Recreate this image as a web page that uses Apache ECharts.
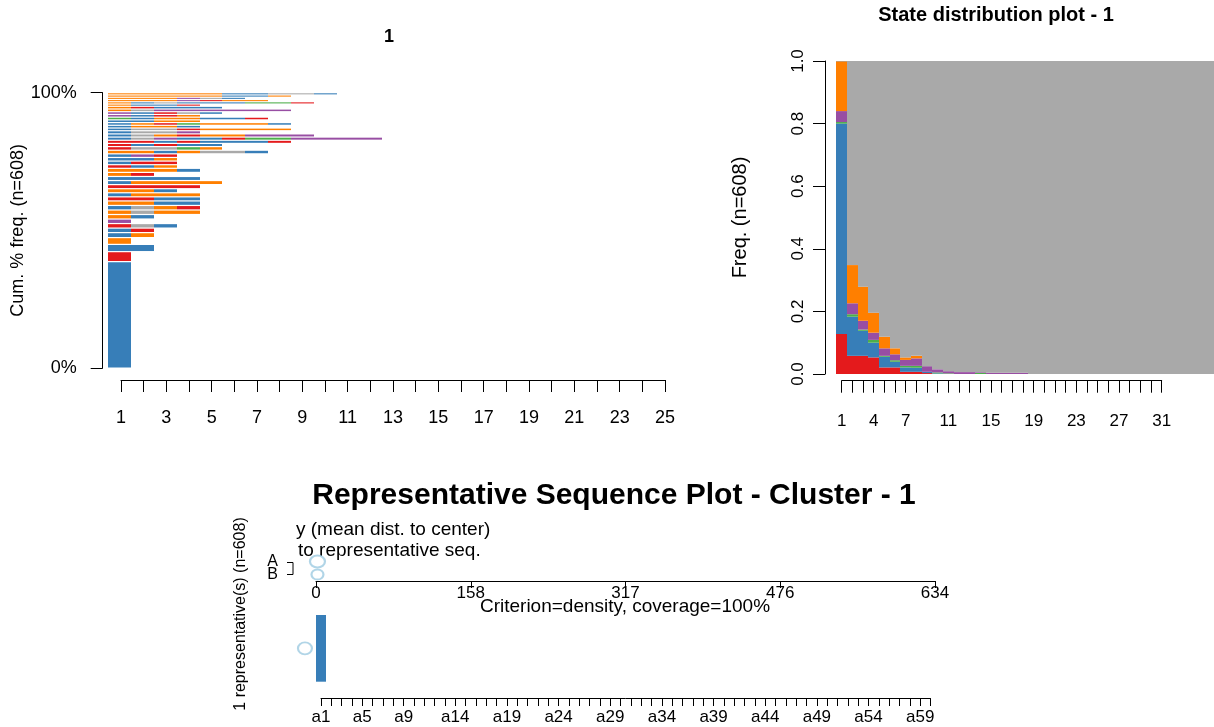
<!DOCTYPE html>
<html>
<head>
<meta charset="utf-8">
<script src="https://cdn.jsdelivr.net/npm/echarts@6/dist/echarts.min.js"></script>
<style>
html, body { margin: 0; padding: 0; background: #fff; }
#main { width: 1214px; height: 727px; }
</style>
</head>
<body>
<div id="main"></div>
<script>
// state codes: B blue, R red, N green, P purple, O orange, G grey
var stateCodes = 'BRNPOG';
var stateColors = ['#377EB8', '#E41A1C', '#4DAF4A', '#984EA3', '#FF7F00', '#A9A9A9'];

// sequence frequency plot, most frequent (bottom) to least frequent (top)
var nSeq = 608;
var seqRows = ['B', 'R', 'BB', 'O',
	'BO', 'BR', 'RGB', 'P', 'OB', 'OGOO', 'BGOR', 'OOBB',
	'RRBB', 'BOOO', 'OOB', 'RRRR', 'BOOOO', 'BBBB', 'OR', 'OOOB',
	'RBO', 'BRR', 'BBO', 'BPR', 'OOBOGGB', 'RGGNO',
	'RBRBB', 'RRBRBBBR', 'BGPBBRNNPPPP', 'BGOROOPPP', 'BGGP',
	'BGGROOOO', 'BOOB', 'BORNOOOB', 'BBOO', 'NBOOBBR', 'PBRO', 'PBRGB', 'OGPPPPPP', 'ORBBB',
	'OBBR', 'OBGBBBNNR', 'OOOPROO', 'OOOPGB', 'OOOOOBBO', 'OOOOOBBGGB'];
var seqCounts = [235, 22, 16, 15,
	11, 10, 10, 10, 10, 10, 10, 10,
	9, 9, 9, 9, 9, 9, 9, 9,
	8, 8, 8, 8, 8, 8,
	7, 7, 7, 7, 7,
	6, 6, 6, 6, 6, 6, 6, 6, 6,
	5, 5, 5, 5, 5, 5];
var freqLength = 25;
var freqLabels = [1, 3, 5, 7, 9, 11, 13, 15, 17, 19, 21, 23, 25];

// state distribution plot, share per position (bottom to top: red, blue, green, purple, orange)
var distRed    = [0.128, 0.058, 0.058, 0.053, 0.021, 0.021, 0.007, 0.007, 0.003, 0, 0, 0, 0, 0, 0, 0, 0, 0];
var distBlue   = [0.672, 0.125, 0.080, 0.047, 0.034, 0.018, 0.014, 0.013, 0.004, 0.002, 0, 0, 0, 0, 0, 0, 0, 0];
var distGreen  = [0.005, 0.008, 0.004, 0.009, 0.003, 0.005, 0.005, 0.006, 0, 0.003, 0.002, 0, 0, 0.004, 0, 0, 0, 0];
var distPurple = [0.035, 0.035, 0.028, 0.023, 0.024, 0.019, 0.019, 0.024, 0.018, 0.010, 0.007, 0.006, 0.006, 0.002, 0.004, 0.004, 0.004, 0.004];
var distOrange = [0.160, 0.122, 0.109, 0.064, 0.037, 0.019, 0.008, 0.008, 0, 0, 0, 0, 0, 0, 0, 0, 0, 0];
var distLength = 36;
var distLabels = [1, 4, 7, 11, 15, 19, 23, 27, 31];

// representative sequence plot
var repDistTicks = [0, 158, 317, 476, 634];
var repDistA = 1.5;
var repDistB = 1.5;
var repSeq = 'B';
var repCirclePos = [-0.55];
var repLength = 60;
var repLabels = [1, 5, 9, 14, 19, 24, 29, 34, 39, 44, 49, 54, 59];

var FONT = 'Liberation Sans';

var freqItems = [];
var cum = 0;
seqRows.forEach(function (s, i) {
	var y0 = cum / nSeq * 100;
	cum += seqCounts[i];
	var y1 = cum / nSeq * 100;
	for (var k = 0; k < s.length; k++) {
		freqItems.push([k + 1, y0, y1, stateCodes.indexOf(s[k])]);
	}
});

var distStates = [distRed, distBlue, distGreen, distPurple, distOrange];
var distColorIdx = [1, 0, 2, 3, 4];
var distItems = [];
for (var p = 0; p < distLength; p++) {
	var c = 0;
	for (var s = 0; s < distStates.length; s++) {
		var v = distStates[s][p] || 0;
		if (v > 0) distItems.push([p + 1, c, c + v, distColorIdx[s]]);
		c += v;
	}
	distItems.push([p + 1, c, 1, 5]);   // missing
}

var repItems = [];
for (var r = 0; r < repSeq.length; r++) repItems.push([r + 1, 0, 1, stateCodes.indexOf(repSeq[r])]);

function rectRenderer(inset) {
	return function (params, api) {
		var a = api.coord([api.value(0) - 0.5, api.value(2)]);
		var b = api.coord([api.value(0) + 0.5, api.value(1)]);
		var x0 = Math.round(a[0]), x1 = Math.round(b[0]);
		var h = b[1] - a[1];
		return {
			type: 'rect',
			shape: { x: x0, y: a[1] + inset, width: x1 - x0, height: Math.max(h - 2 * inset, 0.6) },
			style: { fill: stateColors[api.value(3)] }
		};
	};
}

function axisStyle(extra) {
	var o = {
		type: 'value',
		axisLine: { show: true, lineStyle: { color: '#000', width: 1 } },
		axisTick: { show: true, inside: false, length: 12, lineStyle: { color: '#000', width: 1 } },
		axisLabel: { color: '#000', fontFamily: FONT, fontSize: 18 },
		splitLine: { show: false }
	};
	for (var k in extra) {
		if (typeof extra[k] === 'object' && o[k] && !Array.isArray(extra[k])) {
			for (var j in extra[k]) o[k][j] = extra[k][j];
		} else o[k] = extra[k];
	}
	return o;
}

var hidden = function (min, max) { return { type: 'value', show: false, min: min, max: max }; };

var myChart = echarts.init(document.getElementById('main'));
var option = {
	animation: false,
	backgroundColor: '#fff',
	grid: [
		{ left: 108.3, top: 92.7, width: 570.7, height: 275.3, outerBoundsMode: 'none' },   // freq plot
		{ left: 121, top: 379, width: 544, height: 1, outerBoundsMode: 'none' },            // freq x axis
		{ left: 836.3, top: 61, width: 377.7, height: 313, outerBoundsMode: 'none' },       // dist plot
		{ left: 841.7, top: 379.7, width: 320, height: 1, outerBoundsMode: 'none' },        // dist x axis
		{ left: 316, top: 555, width: 619, height: 26, outerBoundsMode: 'none' },           // rep distances
		{ left: 315.8, top: 615, width: 620, height: 66.7, outerBoundsMode: 'none' },       // rep sequence
		{ left: 321, top: 697.5, width: 609.5, height: 1, outerBoundsMode: 'none' }         // rep x axis
	],
	xAxis: [
		Object.assign(hidden(0.5, freqLength + 0.5), { gridIndex: 0 }),
		axisStyle({
			gridIndex: 1, min: 1, max: freqLength, interval: 1,
			axisLabel: { margin: 29, formatter: function (v) { return freqLabels.indexOf(v) >= 0 ? String(v) : ''; } }
		}),
		Object.assign(hidden(0.5, 0.5 + 377.7 / 10.67), { gridIndex: 2 }),
		axisStyle({
			gridIndex: 3, min: 1, max: 31, interval: 1,
			axisLabel: { margin: 32, fontSize: 17, formatter: function (v) { return distLabels.indexOf(v) >= 0 ? String(v) : ''; } }
		}),
		axisStyle({
			gridIndex: 4, min: 0, max: 634, interval: 158.5,
			axisTick: { length: 7 },
			axisLabel: { margin: 4, fontSize: 17, formatter: function (v) { return String(repDistTicks[Math.round(v / 158.5)]); } }
		}),
		Object.assign(hidden(0.5, repLength + 0.5), { gridIndex: 5 }),
		axisStyle({
			gridIndex: 6, min: 1, max: repLength, interval: 1,
			axisTick: { length: 7.5 },
			axisLabel: { margin: 10, fontSize: 17, formatter: function (v) { return repLabels.indexOf(v) >= 0 ? 'a' + v : ''; } }
		})
	],
	yAxis: [
		axisStyle({
			gridIndex: 0, min: 0, max: 100, interval: 100, offset: 5.6,
			axisLabel: { margin: 26, formatter: '{value}%' },
			name: 'Cum. % freq. (n=608)', nameLocation: 'middle', nameRotate: 90, nameGap: 73,
			nameTextStyle: { fontFamily: FONT, fontSize: 18, color: '#000' }
		}),
		Object.assign(hidden(0, 1), { gridIndex: 1 }),
		axisStyle({
			gridIndex: 2, min: 0, max: 1, interval: 0.2, offset: 11.3,
			axisLabel: { margin: 18, fontSize: 17, rotate: 90, formatter: function (v) { return v.toFixed(1); } },
			name: 'Freq. (n=608)', nameLocation: 'middle', nameRotate: 90, nameGap: 75,
			nameTextStyle: { fontFamily: FONT, fontSize: 20, color: '#000' }
		}),
		Object.assign(hidden(0, 1), { gridIndex: 3 }),
		{
			type: 'category', gridIndex: 4, data: ['B', 'A'],
			axisLine: { show: false }, axisTick: { show: false }, splitLine: { show: false },
			axisLabel: { color: '#000', fontFamily: FONT, fontSize: 16, margin: 38, interval: 0, hideOverlap: false }
		},
		Object.assign(hidden(0, 1), { gridIndex: 5 }),
		Object.assign(hidden(0, 1), { gridIndex: 6 })
	],
	graphic: [
		{ type: 'text', x: 389, y: 37, style: { text: '1', font: 'bold 18px "Liberation Sans"', fill: '#000', align: 'center', verticalAlign: 'middle' } },
		{ type: 'text', x: 996, y: 15, style: { text: 'State distribution plot - 1', font: 'bold 20px "Liberation Sans"', fill: '#000', align: 'center', verticalAlign: 'middle' } },
		{ type: 'text', x: 614, y: 496, style: { text: 'Representative Sequence Plot - Cluster - 1', font: 'bold 30px "Liberation Sans"', fill: '#000', align: 'center', verticalAlign: 'middle' } },
		{ type: 'text', x: 296, y: 530, style: { text: 'y (mean dist. to center)', font: '19px "Liberation Sans"', fill: '#000', align: 'left', verticalAlign: 'middle' } },
		{ type: 'text', x: 298, y: 551, style: { text: 'to representative seq.', font: '19px "Liberation Sans"', fill: '#000', align: 'left', verticalAlign: 'middle' } },
		{ type: 'polyline', shape: { points: [[287, 562.5], [293, 562.5], [293, 574.5], [287, 574.5]] }, style: { stroke: '#000', lineWidth: 1, fill: null } },
		{ type: 'text', x: 625, y: 607, style: { text: 'Criterion=density, coverage=100%', font: '19px "Liberation Sans"', fill: '#000', align: 'center', verticalAlign: 'middle' } },
		{ type: 'text', x: 241, y: 614, rotation: Math.PI / 2, style: { text: '1 representative(s) (n=608)', font: '16px "Liberation Sans"', fill: '#000', align: 'center', verticalAlign: 'middle' } }
	],
	series: [
		{
			type: 'custom', xAxisIndex: 0, yAxisIndex: 0, silent: true,
			renderItem: rectRenderer(0.6),
			data: freqItems
		},
		{
			type: 'custom', xAxisIndex: 2, yAxisIndex: 2, silent: true, clip: true,
			renderItem: rectRenderer(0),
			data: distItems
		},
		{
			type: 'scatter', xAxisIndex: 4, yAxisIndex: 4, silent: true, clip: false,
			symbol: 'circle',
			itemStyle: { color: 'rgba(0,0,0,0)', borderColor: '#9ECAE1', borderWidth: 2 },
			data: [
				{ value: [repDistA, 'A'], symbolSize: [15, 12] },
				{ value: [repDistB, 'B'], symbolSize: [12, 10] }
			]
		},
		{
			type: 'custom', xAxisIndex: 5, yAxisIndex: 5, silent: true,
			renderItem: rectRenderer(0),
			data: repItems
		},
		{
			type: 'scatter', xAxisIndex: 5, yAxisIndex: 5, silent: true, clip: false,
			symbol: 'circle', symbolSize: [14, 12],
			itemStyle: { color: 'rgba(0,0,0,0)', borderColor: '#9ECAE1', borderWidth: 2 },
			data: [[repCirclePos[0], 0.5]]
		}
	]
};
myChart.setOption(option);
</script>
</body>
</html>
